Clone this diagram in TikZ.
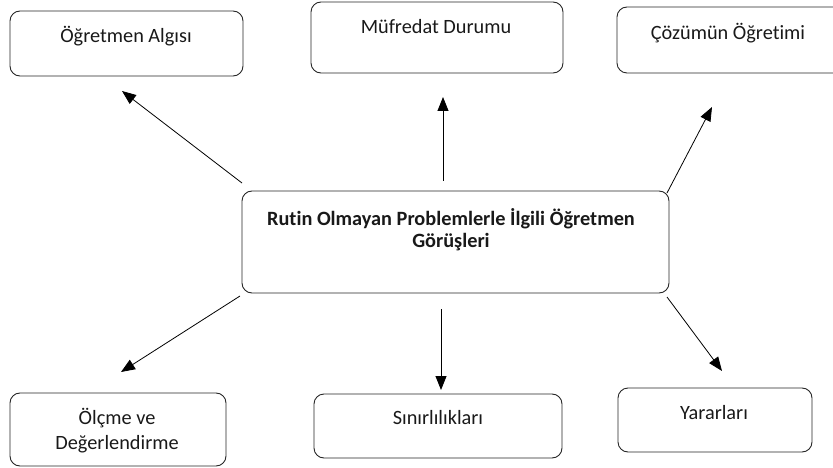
\documentclass[tikz,border=0pt]{standalone}
\usepackage{fontspec}
\setmainfont[Ligatures=NoCommon]{Carlito}
\usetikzlibrary{arrows.meta}
\begin{document}
\begin{tikzpicture}[x=1pt,y=-1pt,
  box/.style={draw=black!85, line width=0.9pt, rounded corners=10pt, inner sep=0pt},
  lbl/.style={font=\fontsize{20.3}{24}\selectfont, text=black!90, align=center, inner sep=0pt},
  arr/.style={line width=0.8pt, -{Triangle[length=14pt,width=11pt]}}]
\useasboundingbox (0,0) rectangle (833,468);

% boxes
\node[box, minimum width=233pt, minimum height=65pt]  (alg)  at (126.5,43.5) {};
\node[box, minimum width=252pt, minimum height=71pt]  (muf)  at (437,37.5)   {};
\node[box, minimum width=230pt, minimum height=66pt]  (coz)  at (732,40)     {};
\node[box, minimum width=427pt, minimum height=102pt] (mid)  at (455.5,242)  {};
\node[box, minimum width=216pt, minimum height=73pt]  (olc)  at (118,429.5)  {};
\node[box, minimum width=248pt, minimum height=64pt]  (sin)  at (438,426)    {};
\node[box, minimum width=194pt, minimum height=64pt]  (yar)  at (715,420)    {};

% labels
\node[lbl] (talg) at (126,36)  {Öğretmen Algısı};
\node[lbl] (tmuf) at (436,27)  {Müfredat Durumu};
\node[lbl] (tcoz) at (728,33)  {Çözümün Öğretimi};
\node[lbl, font=\fontsize{20.3}{22}\selectfont\bfseries] (tmid) at (451,230)
  {Rutin Olmayan Problemlerle İlgili Öğretmen\\Görüşleri};
\node[lbl, font=\fontsize{20.3}{25}\selectfont] (tolc) at (117,430.5) {Ölçme ve\\Değerlendirme};
\node[lbl] (tsin) at (438,418) {Sınırlılıkları};
\node[lbl] (tyar) at (714,413) {Yararları};

% arrow ends
\coordinate (s1) at (242,183); \coordinate (e1) at (122,91);
\coordinate (s2) at (443,181); \coordinate (e2) at (443,97);
\coordinate (s3) at (667,193); \coordinate (e3) at (712,107);
\coordinate (s4) at (240,296); \coordinate (e4) at (121,372);
\coordinate (s5) at (441,309); \coordinate (e5) at (441,390);
\coordinate (s6) at (667,297); \coordinate (e6) at (722,371);

\draw[arr] (s1) -- (e1);
\draw[arr] (s2) -- (e2);
\draw[arr] (s3) -- (e3);
\draw[arr] (s4) -- (e4);
\draw[arr] (s5) -- (e5);
\draw[arr] (s6) -- (e6);
\end{tikzpicture}
\end{document}
